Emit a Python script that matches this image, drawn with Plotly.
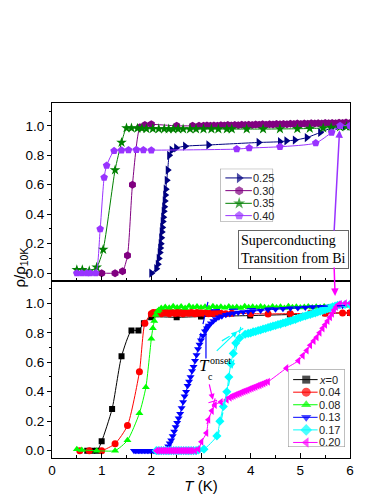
import plotly.graph_objects as go

# ---------------- TOP PANEL DATA (T in K, rho/rho10K) ----------------
T025 = [2.00, 2.10, 2.13, 2.15, 2.17, 2.18, 2.19, 2.20, 2.21, 2.22,
        2.23, 2.24, 2.25, 2.26, 2.27, 2.28, 2.29, 2.31, 2.33, 2.36,
        2.41, 2.50, 2.68, 3.15, 4.16, 4.59, 4.72, 4.89, 5.13, 5.40,
        5.62, 5.75, 5.90, 6.00]
R025 = [0.00, 0.03, 0.06, 0.10, 0.14, 0.17, 0.20, 0.24, 0.28, 0.31,
        0.35, 0.38, 0.42, 0.45, 0.49, 0.53, 0.57, 0.63, 0.70, 0.80,
        0.835, 0.850, 0.862, 0.870, 0.887, 0.892, 0.898, 0.903, 0.920, 0.955,
        0.985, 1.000, 1.000, 1.000]

T030 = [1.00, 1.27, 1.42, 1.52, 1.62, 1.77, 1.87, 2.00, 2.51, 2.83,
        2.96, 3.05, 3.12, 3.19, 3.26, 3.33, 3.40, 3.47, 3.54, 3.61,
        3.68, 3.75, 3.82, 3.89, 3.96, 4.03, 4.10, 4.17, 4.24, 4.31,
        4.38, 4.45, 4.52, 4.59, 4.66, 4.73, 4.80, 4.87, 4.94, 5.01,
        5.08, 5.15, 5.22, 5.29, 5.36, 5.43, 5.50, 5.57, 5.64, 5.71,
        5.78, 5.85, 5.92, 6.00]
R030 = [0.000, 0.000, 0.013, 0.120, 0.600, 0.990, 1.005, 1.010, 1.000, 1.000,
        1.000, 1.000, 1.002, 1.000, 1.003, 1.001, 1.004, 1.002, 1.005, 1.003,
        1.006, 1.004, 1.007, 1.005, 1.008, 1.006, 1.009, 1.007, 1.010, 1.008,
        1.011, 1.009, 1.012, 1.010, 1.013, 1.011, 1.014, 1.012, 1.015, 1.013,
        1.016, 1.014, 1.017, 1.015, 1.018, 1.016, 1.019, 1.017, 1.020, 1.018,
        1.021, 1.019, 1.022, 1.020]

T035 = [0.50, 0.61, 0.75, 0.90, 1.03, 1.27, 1.40, 1.50, 1.60, 1.72,
        1.81, 1.90, 2.03, 2.15, 2.26, 2.35, 2.44, 2.54, 2.64, 2.78,
        2.90, 3.05, 3.21, 3.35, 3.52, 3.62, 3.92, 4.25, 4.59, 4.94,
        5.19, 5.46, 5.62, 5.80, 5.93, 6.00]
R035 = [0.023, 0.023, 0.015, 0.040, 0.160, 0.700, 0.887, 0.985, 0.985, 0.983,
        0.982, 0.980, 0.980, 0.979, 0.979, 0.978, 0.978, 0.978, 0.978, 0.978,
        0.978, 0.978, 0.978, 0.978, 0.978, 0.978, 0.978, 0.978, 0.979, 0.980,
        0.982, 0.985, 0.988, 0.992, 0.995, 0.997]

T040 = [0.50, 0.60, 0.70, 0.77, 0.88, 0.97, 1.05, 1.10, 1.25, 1.40,
        1.54, 1.70, 1.84, 2.00, 3.72, 3.97, 4.59, 5.31, 5.63, 5.80, 6.00]
R040 = [0.0, 0.0, 0.0, 0.0, 0.0, 0.30, 0.65, 0.73, 0.83, 0.835,
        0.836, 0.838, 0.836, 0.835, 0.842, 0.849, 0.858, 0.883, 0.955, 1.0, 1.0]

# ---------------- BOTTOM PANEL DATA ----------------
T000 = [0.71, 0.81, 0.91, 1.00, 1.21, 1.40, 1.60, 1.74, 1.85, 2.00,
        2.51, 3.00, 3.99, 4.79, 5.50, 6.00]
R000 = [0.0, 0.0, 0.0, 0.063, 0.283, 0.64, 0.816, 0.816, 0.865, 0.905,
        0.905, 0.910, 0.917, 0.924, 0.933, 0.935]

T004 = [0.56, 0.75, 1.00, 1.27, 1.52, 1.76, 1.87, 2.00,
        2.04, 2.08, 2.12, 2.16, 2.20, 2.24, 2.28, 2.32, 2.36, 2.40,
        2.44, 2.48, 2.52, 2.56, 2.60, 2.64, 2.68, 2.72, 2.76, 2.80,
        2.84, 2.88, 2.92, 2.96, 3.00,
        3.05, 3.10, 3.15, 3.20, 3.26, 3.32, 3.40, 3.50, 3.62,
        4.00, 4.35, 4.80, 5.20, 5.50, 5.85, 6.00]
R004 = [0.0, 0.0, 0.0, 0.047, 0.17, 0.535, 0.865, 0.930,
        0.938, 0.932, 0.940, 0.935, 0.930, 0.941, 0.934, 0.937, 0.929, 0.940,
        0.936, 0.931, 0.939, 0.933, 0.937, 0.930, 0.941, 0.935, 0.932, 0.938,
        0.934, 0.930, 0.937, 0.933, 0.936,
        0.932, 0.936, 0.930, 0.934, 0.931, 0.935, 0.932, 0.930, 0.933,
        0.930, 0.928, 0.930, 0.932, 0.933, 0.935, 0.936]

T008 = [0.50, 0.60, 0.90, 1.27, 1.52, 1.76, 1.89, 2.00, 2.03, 2.06,
        2.09, 2.12, 2.15,
        2.20, 2.28, 2.36, 2.44, 2.52, 2.60, 2.68, 2.76, 2.84, 2.92,
        3.00, 3.08, 3.16, 3.24, 3.32, 3.40, 3.48, 3.56, 3.64, 3.72,
        3.80, 3.88, 3.96, 4.04, 4.12, 4.20, 4.28, 4.36, 4.44, 4.52,
        4.60, 4.68, 4.76, 4.84, 4.92, 5.00, 5.08, 5.16, 5.24, 5.32,
        5.40, 5.48, 5.56, 5.64, 5.72, 5.80, 5.88, 5.96]
R008 = [0.010, 0.005, 0.0, 0.0, 0.07, 0.254, 0.43, 0.76, 0.83, 0.88,
        0.92, 0.945, 0.955,
        0.968, 0.975, 0.970, 0.980, 0.972, 0.978, 0.969, 0.982, 0.974, 0.979,
        0.971, 0.976, 0.968, 0.981, 0.973, 0.977, 0.970, 0.979, 0.972, 0.975,
        0.969, 0.980, 0.973, 0.977, 0.971, 0.978, 0.974, 0.970, 0.979, 0.972,
        0.976, 0.969, 0.980, 0.973, 0.977, 0.971, 0.975, 0.978, 0.972, 0.976,
        0.974, 0.979, 0.973, 0.977, 0.980, 0.982, 0.984, 0.985]

T013 = [1.65, 1.68, 1.71, 1.74, 1.77, 1.80, 1.83, 1.86, 1.89, 1.92,
        1.95, 1.98, 2.01, 2.04, 2.07, 2.10, 2.13, 2.16, 2.19, 2.22,
        2.25, 2.28,
        2.31, 2.34, 2.37, 2.40, 2.43, 2.46, 2.49, 2.52, 2.55, 2.58,
        2.61, 2.64, 2.67, 2.70, 2.73, 2.76, 2.79, 2.82, 2.85, 2.88,
        2.91, 2.94, 2.97, 3.00,
        3.04, 3.08, 3.12, 3.16, 3.20,
        3.25, 3.30, 3.36, 3.42, 3.50, 3.58, 3.66, 3.75, 3.85, 3.95, 4.05,
        4.20, 4.35, 4.50, 4.65, 4.80, 4.95, 5.10, 5.25, 5.40, 5.55,
        5.70, 5.85, 6.00]
R013 = [0.0] * 22 + [
        0.01, 0.03, 0.05, 0.07, 0.10, 0.13, 0.16, 0.19, 0.22, 0.25,
        0.29, 0.33, 0.37, 0.40, 0.44, 0.47, 0.50, 0.54, 0.57, 0.61,
        0.65, 0.69, 0.72, 0.75,
        0.78, 0.81, 0.83, 0.85, 0.865,
        0.880, 0.893, 0.905, 0.913, 0.922, 0.928, 0.933, 0.938, 0.942, 0.945, 0.948,
        0.952, 0.956, 0.960, 0.963, 0.966, 0.969, 0.972, 0.975, 0.977, 0.979,
        0.981, 0.983, 0.985]

T017 = [2.10, 2.15, 2.20, 2.25, 2.30, 2.35, 2.40, 2.45, 2.50, 2.55,
        2.60, 2.65, 2.70, 2.75, 2.80, 2.85, 2.90, 2.95, 3.06,
        3.32, 3.38, 3.45, 3.52, 3.56, 3.60, 3.65, 3.70, 3.78, 3.89,
        3.95, 4.00, 4.05, 4.10, 4.15, 4.20, 4.25, 4.30, 4.35, 4.40,
        4.45, 4.50, 4.55, 4.60, 4.65, 4.70, 4.75, 4.80, 4.85, 4.90,
        4.95, 5.00, 5.05, 5.10, 5.15, 5.20, 5.25, 5.30, 5.35, 5.40,
        5.45, 5.50, 5.55, 5.60, 5.65, 5.70, 5.75, 5.80, 5.90, 6.00]
R017 = [0.0, 0.0, 0.0, 0.0, 0.0, 0.0, 0.0, 0.0, 0.0, 0.0,
        0.0, 0.0, 0.0, 0.0, 0.0, 0.0, 0.0, 0.005, 0.01,
        0.10, 0.20, 0.30, 0.40, 0.50, 0.59, 0.66, 0.73, 0.765, 0.79,
        0.796, 0.799, 0.806, 0.809, 0.816, 0.819, 0.826, 0.829, 0.836, 0.840,
        0.846, 0.849, 0.856, 0.859, 0.866, 0.869, 0.876, 0.880, 0.887, 0.891,
        0.899, 0.904, 0.911, 0.914, 0.921, 0.924, 0.931, 0.934, 0.941, 0.946,
        0.952, 0.956, 0.964, 0.969, 0.977, 0.981, 0.987, 0.990, 0.992, 0.993]

T020 = [2.10, 2.14, 2.18, 2.22, 2.26, 2.30, 2.34, 2.38, 2.42, 2.46,
        2.50, 2.54, 2.58, 2.62, 2.66, 2.70, 2.74, 2.78, 2.82, 2.88,
        2.95, 3.01, 3.11, 3.15, 3.22, 3.28, 3.40, 3.52,
        3.58, 3.62, 3.66, 3.70, 3.74, 3.78, 3.82, 3.86, 3.90, 3.94,
        3.98, 4.02, 4.06, 4.10, 4.14, 4.18, 4.22, 4.26, 4.30, 4.35,
        4.72, 4.96, 5.05, 5.13, 5.20, 5.27, 5.33, 5.39, 5.45, 5.50,
        5.55, 5.60, 5.64, 5.68, 5.72, 5.76, 5.80, 5.90, 6.00]
R020 = [0.0] * 20 + [
        0.01, 0.06, 0.12, 0.21, 0.27, 0.31, 0.33, 0.345,
        0.360, 0.368, 0.373, 0.379, 0.385, 0.390, 0.396, 0.401, 0.407, 0.412,
        0.418, 0.423, 0.429, 0.434, 0.440, 0.445, 0.451, 0.456, 0.462, 0.468,
        0.56, 0.61, 0.645, 0.68, 0.715, 0.745, 0.77, 0.80, 0.83, 0.855,
        0.88, 0.905, 0.93, 0.955, 0.975, 0.99, 0.995, 1.0, 1.0]

# dashed onset-construction lines (bottom panel)
TAN_BLUE_STEEP_T, TAN_BLUE_STEEP_R = [2.96, 3.14], [0.74, 1.01]
TAN_BLUE_FLAT_T, TAN_BLUE_FLAT_R = [3.20, 5.90], [0.955, 0.985]
TAN_CYAN_STEEP_T, TAN_CYAN_STEEP_R = [3.33, 3.80], [0.08, 0.84]
TAN_CYAN_FLAT_T, TAN_CYAN_FLAT_R = [3.42, 3.85], [0.745, 0.83]
TAN_MAG_STEEP_T, TAN_MAG_STEEP_R = [3.12, 3.30], [0.18, 0.37]
TAN_MAG_FLAT_T, TAN_MAG_FLAT_R = [3.15, 3.55], [0.325, 0.365]

TOP_LABELS = ["0.25", "0.30", "0.35", "0.40"]
BOT_LABELS = ["<i>x</i>=0", "0.04", "0.08", "0.13", "0.17", "0.20"]
X_TICKS = [0, 1, 2, 3, 4, 5, 6]
Y_TICKS = [0.0, 0.2, 0.4, 0.6, 0.8, 1.0]

for a, b in [(T025, R025), (T030, R030), (T035, R035), (T040, R040), (T000, R000),
             (T004, R004), (T008, R008), (T013, R013), (T017, R017), (T020, R020)]:
    assert len(a) == len(b), (len(a), len(b))

top_series = [
    (T025, R025, "#000080", "triangle-right", 8),
    (T030, R030, "#800080", "hexagon", 8),
    (T035, R035, "#008000", "star", 8),
    (T040, R040, "#9933FF", "pentagon", 8),
]
bot_series = [
    (T000, R000, "#000000", "square", 6),
    (T004, R004, "#FF0000", "circle", 7),
    (T008, R008, "#00FF00", "triangle-up", 7),
    (T013, R013, "#0000FF", "triangle-down", 7),
    (T017, R017, "#00FFFF", "diamond", 7),
    (T020, R020, "#FF00FF", "triangle-left", 7),
]

fig = go.Figure()

for (T, R, c, sym, sz), lab in zip(top_series, TOP_LABELS):
    fig.add_trace(go.Scatter(x=T, y=R, mode="lines+markers", name=lab,
                             line=dict(color=c, width=1, shape="spline", smoothing=0.6),
                             marker=dict(symbol=sym, size=sz, color=c, line=dict(width=0)),
                             xaxis="x2", yaxis="y2", showlegend=False))

for (T, R, c, sym, sz), lab in zip(bot_series, BOT_LABELS):
    fig.add_trace(go.Scatter(x=T, y=R, mode="lines+markers", name=lab,
                             line=dict(color=c, width=1, shape="spline", smoothing=0.6),
                             marker=dict(symbol=sym, size=sz, color=c, line=dict(width=0)),
                             xaxis="x", yaxis="y", showlegend=False))

for T, R, c in [(TAN_BLUE_STEEP_T, TAN_BLUE_STEEP_R, "#0000FF"),
                (TAN_BLUE_FLAT_T, TAN_BLUE_FLAT_R, "#0000FF"),
                (TAN_CYAN_STEEP_T, TAN_CYAN_STEEP_R, "#00FFFF"),
                (TAN_CYAN_FLAT_T, TAN_CYAN_FLAT_R, "#00FFFF"),
                (TAN_MAG_STEEP_T, TAN_MAG_STEEP_R, "#FF00FF"),
                (TAN_MAG_FLAT_T, TAN_MAG_FLAT_R, "#FF00FF")]:
    fig.add_trace(go.Scatter(x=T, y=R, mode="lines", line=dict(color=c, width=1.2, dash="dash"),
                             xaxis="x", yaxis="y", showlegend=False, hoverinfo="skip"))

# ---- hand-built legends on auxiliary axes ----
TOP_ROWS = [3.3, 2.34, 1.38, 0.45]
BOT_ROWS = [5.2, 4.23, 3.26, 2.29, 1.32, 0.35]
legfont = dict(family="Arial, Liberation Sans", size=11, color="#222")
for (T, R, c, sym, sz), lab, r in zip(top_series, TOP_LABELS, TOP_ROWS):
    fig.add_trace(go.Scatter(x=[0.1, 0.36, 0.6], y=[r, r, r], mode="lines+markers",
                             line=dict(color=c, width=1),
                             marker=dict(symbol=sym, size=[0, sz + 1, 0], color=c, line=dict(width=0)),
                             xaxis="x3", yaxis="y3", showlegend=False, hoverinfo="skip",
                             cliponaxis=False))
    fig.add_annotation(x=0.6, y=r, xref="x3", yref="y3", text=lab, showarrow=False,
                       xanchor="left", yanchor="middle", borderpad=0, font=legfont)
for (T, R, c, sym, sz), lab, r in zip(bot_series, BOT_LABELS, BOT_ROWS):
    fig.add_trace(go.Scatter(x=[0.09, 0.32, 0.52], y=[r, r, r], mode="lines+markers",
                             line=dict(color=c, width=1),
                             marker=dict(symbol=sym, size=[0, sz + 2, 0], color=c, line=dict(width=0)),
                             xaxis="x4", yaxis="y4", showlegend=False, hoverinfo="skip",
                             cliponaxis=False))
    fig.add_annotation(x=0.53, y=r, xref="x4", yref="y4", text=lab, showarrow=False,
                       xanchor="left", yanchor="middle", borderpad=0, font=legfont)

fig.add_shape(type="rect", xref="x3", yref="y3", x0=0, x1=1, y0=0, y1=4,
              line=dict(color="#888", width=1), layer="below")
fig.add_shape(type="rect", xref="x4", yref="y4", x0=0, x1=1, y0=0, y1=6,
              line=dict(color="#888", width=1), layer="below")

# ---- annotations ----
serif = "Liberation Serif, Times New Roman, serif"
fig.add_annotation(x=0.809, y=0.588, xref="paper", yref="paper", xanchor="center", yanchor="middle",
                   text="Superconducting<br>Transition from Bi", showarrow=False,
                   align="left", bordercolor="#666", borderwidth=1, borderpad=2,
                   bgcolor="white", font=dict(family=serif, size=14, color="black"))
fig.add_annotation(x=5.79, y=0.97, xref="x2", yref="y2", text="", showarrow=True,
                   ax=-5.5, ay=102, arrowcolor="#9933FF", arrowwidth=1.5,
                   arrowhead=2, arrowsize=1)
fig.add_annotation(x=5.70, y=1.05, xref="x", yref="y", text="", showarrow=True,
                   ax=-1, ay=-30, arrowcolor="#FF00FF", arrowwidth=1.5,
                   arrowhead=2, arrowsize=1)
fig.add_annotation(x=3.10, y=0.86, xref="x", yref="y", text="", showarrow=True,
                   ax=0, ay=36, arrowcolor="#0000FF", arrowwidth=1.2, arrowhead=2, arrowsize=1)
fig.add_annotation(x=3.73, y=0.81, xref="x", yref="y", text="", showarrow=True,
                   ax=-22, ay=21, arrowcolor="#00FFFF", arrowwidth=1.2, arrowhead=2, arrowsize=1)
fig.add_annotation(x=3.24, y=0.345, xref="x", yref="y", text="", showarrow=True,
                   ax=-4, ay=-17, arrowcolor="#FF00FF", arrowwidth=1.2, arrowhead=2, arrowsize=1)
fig.add_annotation(x=3.08, y=0.58, xref="x", yref="y", text="<i>T</i>", showarrow=False,
                   font=dict(family=serif, size=17, color="black"))
fig.add_annotation(x=3.19, y=0.505, xref="x", yref="y", text="c", showarrow=False,
                   font=dict(family=serif, size=10, color="black"))
fig.add_annotation(x=3.39, y=0.615, xref="x", yref="y", text="onset", showarrow=False,
                   font=dict(family=serif, size=10, color="black"))
fig.add_annotation(x=-0.107, y=0.537, xref="paper", yref="paper", xanchor="center", yanchor="middle",
                   text="ρ/ρ<sub>10K</sub>", showarrow=False, textangle=-90,
                   font=dict(family="Arial, Liberation Sans", size=15, color="black"))

tickfont = dict(family="Arial, Liberation Sans", size=13.5, color="black")
xcommon = dict(range=[0, 6], tickvals=X_TICKS, ticks="inside", ticklen=5, tickcolor="black",
               minor=dict(ticks="inside", ticklen=3, dtick=0.5, tick0=0, tickcolor="black"),
               showline=True, linecolor="black", linewidth=1, mirror=True, automargin=False,
               showgrid=False, zeroline=False, tickfont=tickfont)
ycommon = dict(range=[-0.05, 1.155], tickvals=Y_TICKS, tickformat=".1f", ticks="outside",
               ticklen=4, tickcolor="black",
               minor=dict(ticks="outside", ticklen=2.5, dtick=0.1, tick0=0, tickcolor="black"),
               showline=True, linecolor="black", linewidth=1, mirror=True, automargin=False,
               showgrid=False, zeroline=False, tickfont=tickfont)

# the page body adds an 8px offset, so the figure is 8px smaller and its margins shifted
fig.update_layout(
    template="none",
    width=374, height=486,
    margin=dict(l=44, r=32, t=95, b=36, autoexpand=False),
    paper_bgcolor="white", plot_bgcolor="white",
    showlegend=False,
    xaxis=dict(domain=[0, 1], anchor="y",
               title=dict(text="<i>T</i> (K)", standoff=2,
                          font=dict(family="Arial, Liberation Sans", size=15, color="black")),
               **xcommon),
    yaxis=dict(domain=[0, 0.5], anchor="x", **ycommon),
    xaxis2=dict(domain=[0, 1], anchor="y2", showticklabels=False, **xcommon),
    yaxis2=dict(domain=[0.5, 1], anchor="x2", **ycommon),
    xaxis3=dict(domain=[0.564, 0.742], anchor="y3", range=[0, 1], visible=False, automargin=False),
    yaxis3=dict(domain=[0.666, 0.815], anchor="x3", range=[0, 4], visible=False, automargin=False),
    xaxis4=dict(domain=[0.792, 0.983], anchor="y4", range=[0, 1], visible=False, automargin=False),
    yaxis4=dict(domain=[0.031, 0.25], anchor="x4", range=[0, 6], visible=False, automargin=False),
)

fig.write_html("out.html")
